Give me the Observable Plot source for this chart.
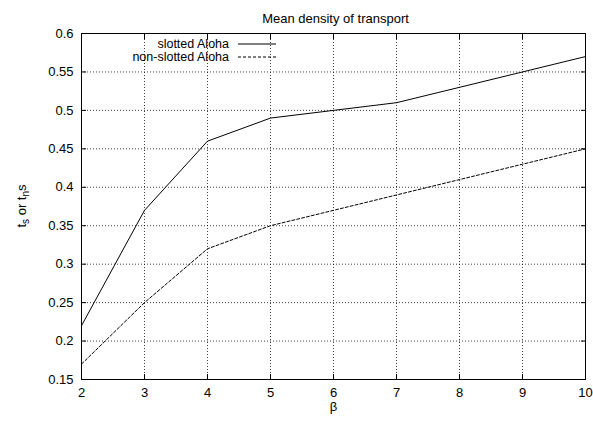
<!DOCTYPE html>
<html>
<head>
<meta charset="utf-8">
<script src="https://cdn.jsdelivr.net/npm/d3@7"></script>
<script src="https://cdn.jsdelivr.net/npm/@observablehq/plot@0.6"></script>
<style>
  html, body { margin: 0; padding: 0; background: #fff; }
  svg { font-family: "Liberation Sans", Arial, sans-serif; }
</style>
</head>
<body>
<div id="chart"></div>
<script>
const title = "Mean density of transport";
const beta = [2, 3, 4, 5, 6, 7, 8, 9, 10];
const slotted = [0.22, 0.37, 0.46, 0.49, 0.50, 0.51, 0.53, 0.55, 0.57];
const nonSlotted = [0.17, 0.25, 0.32, 0.35, 0.37, 0.39, 0.41, 0.43, 0.45];
const seriesNames = ["slotted Aloha", "non-slotted Aloha"];
const yTicks = [0.15, 0.2, 0.25, 0.3, 0.35, 0.4, 0.45, 0.5, 0.55, 0.6];
const xTicks = [2, 3, 4, 5, 6, 7, 8, 9, 10];

const slottedData = beta.map((b, i) => ({beta: b, v: slotted[i]}));
const nonSlottedData = beta.map((b, i) => ({beta: b, v: nonSlotted[i]}));

const fmt = d => String(+d.toFixed(2));
const blank = () => "";

const chart = Plot.plot({
  width: 593,
  height: 424,
  marginLeft: 81,
  marginRight: 8,
  marginTop: 33,
  marginBottom: 45,
  style: {fontSize: "13px", fontFamily: "'Liberation Sans', Arial, sans-serif", color: "#000", background: "#fff"},
  x: {domain: [2, 10]},
  y: {domain: [0.15, 0.6]},
  marks: [
    Plot.gridX(xTicks.slice(1, -1), {stroke: "#000", strokeOpacity: 0.75, strokeDasharray: "1,2"}),
    Plot.gridY(yTicks.slice(1, -1), {stroke: "#000", strokeOpacity: 0.75, strokeDasharray: "1,2"}),
    Plot.axisX(xTicks, {anchor: "bottom", tickSize: -5, tickPadding: 13, label: null, tickFormat: d => String(d), fontSize: 13}),
    Plot.axisX(xTicks, {anchor: "top", tickSize: -5, label: null, tickFormat: blank}),
    Plot.axisY(yTicks, {anchor: "left", tickSize: -5, tickPadding: 13, label: null, tickFormat: fmt, fontSize: 13}),
    Plot.axisY(yTicks, {anchor: "right", tickSize: -5, label: null, tickFormat: blank}),
    Plot.frame({stroke: "#000"}),
    Plot.line(slottedData, {x: "beta", y: "v", stroke: "#000", strokeWidth: 1}),
    Plot.line(nonSlottedData, {x: "beta", y: "v", stroke: "#000", strokeWidth: 1, strokeDasharray: "3,2"}),
    Plot.text([title], {frameAnchor: "top", dy: -20, dx: 2, fontSize: 13, fill: "#000"}),
    Plot.text(["β"], {frameAnchor: "bottom", dy: 31, fontSize: 13, fill: "#000"})
  ]
});
document.getElementById("chart").appendChild(chart);

// Y label with subscripts and legend
const svg = d3.select(chart);
const yl = svg.append("text")
  .attr("transform", "translate(26,206) rotate(-90)")
  .attr("text-anchor", "middle")
  .attr("font-size", 13)
  .attr("fill", "#000");
yl.append("tspan").text("t");
yl.append("tspan").attr("font-size", 10).attr("dy", 3).text("s");
yl.append("tspan").attr("dy", -3).text(" or t");
yl.append("tspan").attr("font-size", 10).attr("dy", 3).text("n");
yl.append("tspan").attr("dy", -3).text("s");

const leg = svg.append("g").attr("font-size", 12.5).attr("fill", "#000");
seriesNames.forEach((name, i) => {
  const y = 44 + i * 13;
  leg.append("text").attr("x", 229).attr("y", y).attr("dy", "0.35em")
    .attr("text-anchor", "end").text(name);
  leg.append("line").attr("x1", 238).attr("x2", 276).attr("y1", y).attr("y2", y)
    .attr("stroke", "#000").attr("stroke-dasharray", i === 1 ? "3,2" : null);
});
</script>
</body>
</html>
